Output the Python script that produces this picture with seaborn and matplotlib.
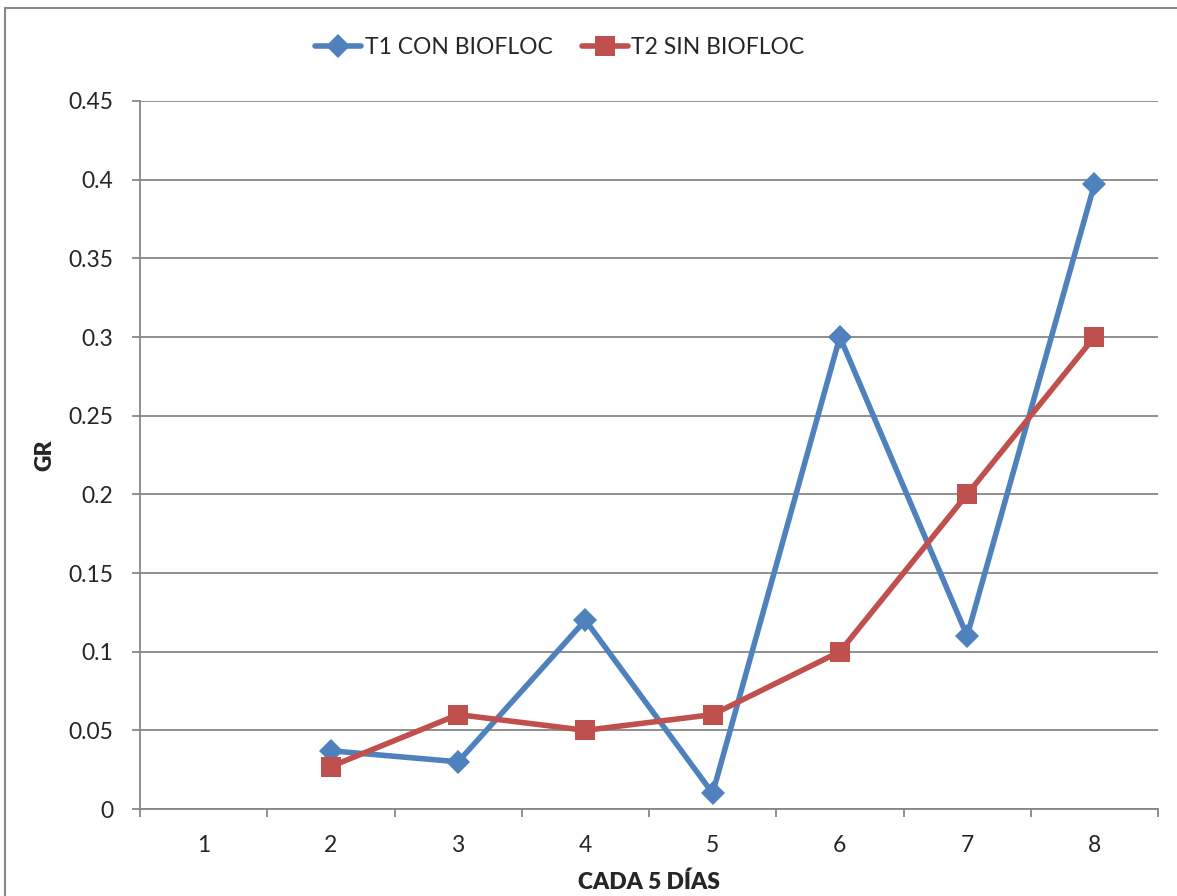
import numpy as np
import pandas as pd
import matplotlib
matplotlib.use("Agg")
import matplotlib.pyplot as plt
from matplotlib.patches import Rectangle
from matplotlib.ticker import FixedLocator, FixedFormatter
import seaborn as sns

# Data: growth rate (GR) sampled every 5 days
categories = ["1", "2", "3", "4", "5", "6", "7", "8"]
t1_con_biofloc = [np.nan, 0.037, 0.03, 0.12, 0.01, 0.30, 0.11, 0.397]
t2_sin_biofloc = [np.nan, 0.027, 0.06, 0.05, 0.06, 0.10, 0.20, 0.30]
y_ticks = [0, 0.05, 0.1, 0.15, 0.2, 0.25, 0.3, 0.35, 0.4, 0.45]
y_tick_labels = ["0", "0.05", "0.1", "0.15", "0.2", "0.25", "0.3", "0.35", "0.4", "0.45"]

sns.set_style("white")
plt.rcParams["font.family"] = ["Lato", "DejaVu Sans"]

W, H = 1177, 896
FS = 16.5
fig = plt.figure(figsize=(W / 100, H / 100), dpi=100)
ax = fig.add_axes([140 / W, (H - 809) / H, (1158 - 140) / W, (809 - 101) / H])

pos = np.arange(len(categories))
df = pd.DataFrame({"pos": pos, "T1": t1_con_biofloc, "T2": t2_sin_biofloc})

blue = "#4F81BD"
red = "#C0504D"
grid_c = "#878787"

sns.lineplot(data=df, x="pos", y="T1", ax=ax, color=blue, lw=4.0,
             marker="D", markersize=12, markeredgewidth=0,
             label="T1 CON BIOFLOC", zorder=3)
sns.lineplot(data=df, x="pos", y="T2", ax=ax, color=red, lw=4.0,
             marker="s", markersize=14.5, markeredgewidth=0,
             label="T2 SIN BIOFLOC", zorder=4)

ax.set_xlim(-0.5, len(categories) - 0.5)
ax.set_ylim(0, 0.45)

# y axis
ax.set_yticks(y_ticks)
ax.set_yticklabels(y_tick_labels)
ax.yaxis.grid(True, color=grid_c, lw=1.3)
ax.xaxis.grid(False)
ax.tick_params(axis="y", which="major", length=6, width=1.3, color=grid_c,
               direction="out", pad=13, labelsize=FS, left=True)

# x axis: labels at category centres, tick marks between categories
ax.xaxis.set_major_locator(FixedLocator(pos))
ax.xaxis.set_major_formatter(FixedFormatter(categories))
ax.xaxis.set_minor_locator(FixedLocator(np.arange(len(categories) + 1) - 0.5))
ax.tick_params(axis="x", which="major", length=0, pad=19, labelsize=FS)
ax.tick_params(axis="x", which="minor", length=6, width=1.3, color=grid_c,
               direction="out", bottom=True)

for side in ["top", "right"]:
    ax.spines[side].set_visible(False)
for side in ["left", "bottom"]:
    ax.spines[side].set_color(grid_c)
    ax.spines[side].set_linewidth(1.3)

ax.set_xlabel("")
ax.set_ylabel("")
fig.text(45 / W, 1 - 455 / H, "GR", rotation=90, ha="center", va="center",
         fontsize=FS, fontweight="heavy")
fig.text(649 / W, 1 - 882 / H, "CADA 5 DÍAS", ha="center", va="center",
         fontsize=FS, fontweight="heavy")

handles, labels = ax.get_legend_handles_labels()
ax.get_legend().remove()
fig.legend(handles, labels, loc="center", bbox_to_anchor=(560 / W, 1 - 48 / H),
           ncol=2, frameon=False, fontsize=FS, handlelength=2.0,
           handletextpad=0.15, columnspacing=1.3, borderaxespad=0)

# chart-area border
fig.patches.append(Rectangle((5 / W, -0.1), 1.2, (H - 8) / H + 0.1,
                             transform=fig.transFigure, fill=False,
                             edgecolor=grid_c, lw=1.5, zorder=0))

fig.savefig("out.png", dpi=100)
